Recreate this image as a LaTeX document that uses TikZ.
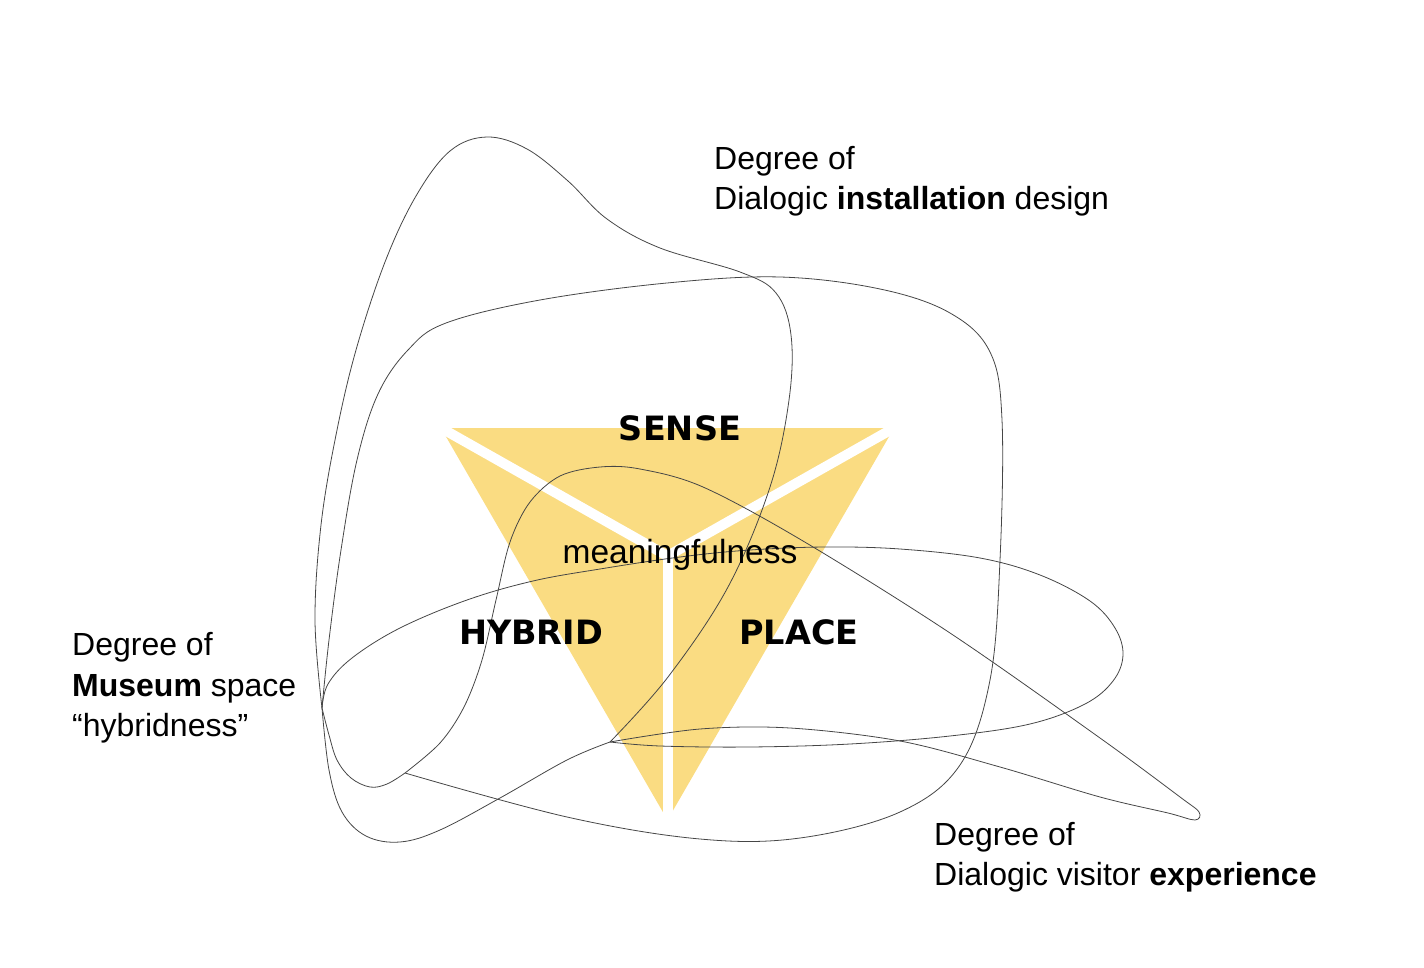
\documentclass[tikz,border=0pt]{standalone}
\usepackage{fontspec}
\usetikzlibrary{calc}
\setmainfont{Liberation Sans}
\newfontfamily\dejavu{DejaVu Sans}
\definecolor{triyellow}{RGB}{250,220,130}
\definecolor{curvegray}{RGB}{70,70,70}
\begin{document}
\begin{tikzpicture}[x=1pt,y=-1pt,
  blob/.style={draw=curvegray, line width=0.8pt, line join=round},
  gap/.style={draw=white, line width=10pt},
  lab/.style={anchor=base west, inner sep=0pt, font=\fontsize{32}{40}\selectfont},
  pillar/.style={inner sep=0pt, font=\dejavu\bfseries\fontsize{33.5}{40}\selectfont},
  core/.style={inner sep=0pt, font=\fontsize{33.5}{40}\selectfont}]
\useasboundingbox (0,0) rectangle (1424,968);
% triangle
\coordinate (TL) at (441,428);
\coordinate (TR) at (894,428);
\coordinate (BT) at (667.5,820);
\coordinate (C) at (667.5,556);
\fill[triyellow] (TL) -- (TR) -- (BT) -- cycle;
\draw[gap] (C) -- ($(C)!1.05!(TL)$);
\draw[gap] (C) -- ($(C)!1.05!(TR)$);
\draw[gap] (C) -- ($(C)!1.05!(BT)$);
% junctions
\coordinate (J1) at (610,742);
\coordinate (J2) at (405,773);
\coordinate (J3) at (322,708);
% installation blob (top)
\draw[blob] plot[smooth, tension=0.6] coordinates {(J1) (668,677) (728,587) (770,487) (789,400) (791,335) (776,293) (740,272) (660,248) (607,219) (568,181) (527,149) (487,137) (450,151) (416,196) (385,262) (356,350) (336,435) (321,525) (315,620) (J3)};
% installation blob (lower loop)
\draw[blob] plot[smooth, tension=0.6] coordinates {(J1) (567,760) (500,798) (440,830) (400,842) (366,836) (342,812) (329,770) (J3)};
% small loop
\draw[blob] plot[smooth, tension=0.6] coordinates {(J2) (387,784) (370,787) (351,778) (337,760) (329,735) (J3)};
% rounded square
\draw[blob] plot[smooth, tension=0.6] coordinates {(J2) (567,817) (700,839) (800,838) (900,812) (960,765) (990,680) (1000,560) (1002,420) (990,352) (950,313) (880,289) (780,277) (667,283) (540,300) (446,323) (408,350) (378,394) (357,460) (341,550) (329,640) (J3)};
% museum ellipse
\draw[blob] plot[smooth, tension=0.6] coordinates {(J1) (660,746) (750,747) (850,744) (950,736) (1030,724) (1085,704) (1113,681) (1123,655) (1115,628) (1090,601) (1040,575) (980,558) (900,549) (826,547) (750,550) (680,557) (600,569) (533,581) (467,600) (400,628) (352,658) (328,684) (J3)};
% experience lobe
\draw[blob] plot[smooth, tension=0.55] coordinates {(J1) (700,729) (790,728) (900,741) (1000,767) (1100,797) (1168,813) (1195,820) (1199,812) (1180,797) (1100,738) (950,633) (803,541) (703,487) (640,469) (600,467) (560,476) (530,502) (510,542) (496,600) (482,660) (464,707) (440,743) (J2)};
% pillar texts
\node[pillar] (sense) at (680,428.5) {SENSE};
\node[pillar] (hybrid) at (531,632) {HYBRID};
\node[pillar] (place) at (799,632) {PLACE};
\node[core, anchor=base] (mean) at (680,563) {meaningfulness};
% axis labels
\node[lab] (ia) at (714,170) {Degree of};
\node[lab] (ib) at (714,210) {Dialogic \textbf{installation} design};
\node[lab] (ma) at (72,655) {Degree of};
\node[lab] (mb) at (72,696) {\textbf{Museum} space};
\node[lab] (mc) at (72,736) {“hybridness”};
\node[lab] (ea) at (934,845) {Degree of};
\node[lab] (eb) at (934,885) {Dialogic visitor \textbf{experience}};
\end{tikzpicture}
\end{document}
